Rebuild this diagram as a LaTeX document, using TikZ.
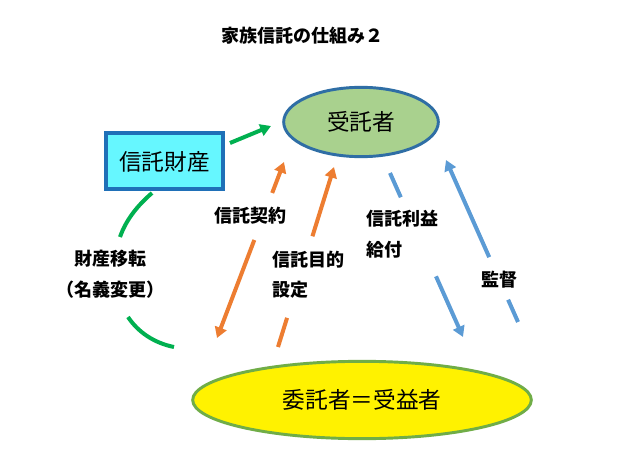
\documentclass[tikz,border=0pt]{standalone}
\usepackage{fontspec}
\newfontfamily\cjk{Noto Sans CJK JP}
\usetikzlibrary{shapes.geometric,arrows.meta,calc}
\definecolor{ograng}{HTML}{ED7D31}
\definecolor{bblue}{HTML}{5B9BD5}
\definecolor{ggreen}{HTML}{00B050}
\definecolor{boxfill}{HTML}{66F7FF}
\definecolor{boxline}{HTML}{1F70B8}
\definecolor{ellgreen}{HTML}{A9D18E}
\definecolor{ellline}{HTML}{2F6EA5}
\definecolor{yelline}{HTML}{70AD47}
\tikzset{
  lbl/.style={font=\cjk\bfseries\fontsize{13.5}{16}\selectfont, inner sep=0pt},
  big/.style={font=\cjk\fontsize{17}{20}\selectfont},
  oline/.style={draw=ograng, line width=3pt},
  bline/.style={draw=bblue, line width=3pt},
  gline/.style={draw=ggreen, line width=3pt},
  tip/.style={-{Triangle[length=8pt,width=9pt]}},
  tipb/.style={{Triangle[length=8pt,width=9pt]}-},
}
\begin{document}
\begin{tikzpicture}[x=0.75pt,y=-0.75pt]
\useasboundingbox (0,0) rectangle (631,470);
\fill[white] (0,0) rectangle (631,470);

\node[lbl] (title) at (302,36) {家族信託の仕組み２};

\node[big, ellipse, draw=ellline, line width=2.2pt, fill=ellgreen, minimum width=116pt, minimum height=52pt] (jutaku) at (361,122) {受託者};
\node[big, rectangle, draw=boxline, line width=3pt, fill=boxfill, minimum width=88pt, minimum height=42pt] (zaisan) at (164.5,161.5) {信託財産};
\node[big, ellipse, draw=yelline, line width=2.2pt, fill=yellow, minimum width=254pt, minimum height=58pt] (itaku) at (362,400) {委託者＝受益者};

% green arrow
\coordinate (g1) at (230,143);
\coordinate (g2) at (271,126);
\draw[gline, tip] (g1) -- (g2);

% green arc (two pieces)
\coordinate (ga) at (152,193);
\coordinate (gb) at (120,237);
\coordinate (gc) at (128,317);
\coordinate (gd) at (174,347);
\draw[gline] (ga) .. controls (137,206) and (126,220) .. (gb);
\draw[gline] (gc) .. controls (138,332) and (154,343) .. (gd);

% orange 1: 信託契約 (double headed)
\coordinate (o1a) at (217,338);
\coordinate (o1b) at (284,162);
\draw[oline, tipb] (o1a) -- ($(o1a)!0.557!(o1b)$);
\draw[oline, tip] ($(o1a)!0.824!(o1b)$) -- (o1b);

% orange 2: 信託目的設定
\coordinate (o2a) at (278,347);
\coordinate (o2b) at (334,167);
\draw[oline] (o2a) -- ($(o2a)!0.162!(o2b)$);
\draw[oline, tip] ($(o2a)!0.615!(o2b)$) -- (o2b);

% blue 3: 信託利益給付
\coordinate (b1a) at (390,173);
\coordinate (b1b) at (463,337);
\draw[bline] (b1a) -- ($(b1a)!0.148!(b1b)$);
\draw[bline, tip] ($(b1a)!0.63!(b1b)$) -- (b1b);

% blue 4: 監督
\coordinate (b2a) at (518,322);
\coordinate (b2b) at (446,160);
\draw[bline] (b2a) -- ($(b2a)!0.1375!(b2b)$);
\draw[bline, tip] ($(b2a)!0.4!(b2b)$) -- (b2b);

% labels
\node[lbl] (l1) at (250,216) {信託契約};
\node[lbl] (l2) at (110,259) {財産移転};
\node[lbl] (l3) at (110,290) {（名義変更）};
\node[lbl, anchor=west] (l4) at (272,260) {信託目的};
\node[lbl, anchor=west] (l5) at (272,290) {設定};
\node[lbl, anchor=west] (l6) at (366,219) {信託利益};
\node[lbl, anchor=west] (l7) at (366,250) {給付};
\node[lbl] (l8) at (499,280) {監督};
\end{tikzpicture}
\end{document}
